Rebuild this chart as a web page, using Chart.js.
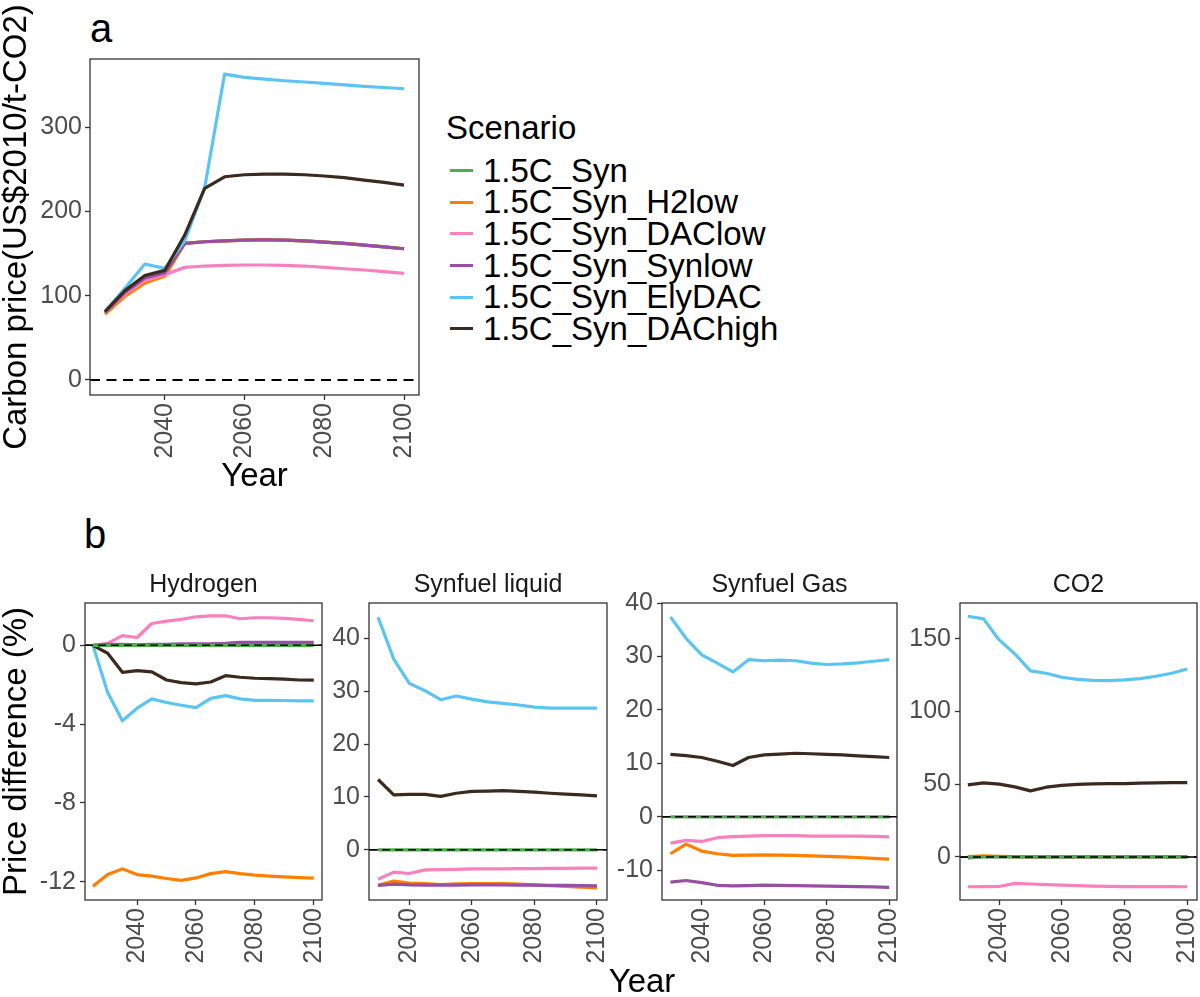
<!DOCTYPE html>
<html>
<head>
<meta charset="utf-8">
<script src="https://cdn.jsdelivr.net/npm/chart.js@4.4.1/dist/chart.umd.min.js"></script>
<style>
body { margin: 0; background: #fff; width: 1200px; height: 997px; position: relative; overflow: hidden;
       font-family: "Liberation Sans", Arial, sans-serif; }
.box { position: absolute; }
.tag { position: absolute; font-size: 40px; line-height: 40px; color: #000; }
#legend { position: absolute; left: 446px; top: 112px; font-size: 33px; color: #000; }
#legend .ttl { line-height: 31.7px; height: 31.7px; margin-bottom: 11px; }
#legend .row { display: flex; align-items: center; height: 31.7px; line-height: 31.7px; white-space: nowrap; }
#legend .key { width: 23px; height: 3px; margin-left: 4px; margin-right: 10px; }
#yearB { position: absolute; left: 542px; width: 200px; top: 964px; text-align: center;
         font-size: 33px; line-height: 33px; color: #000; }
</style>
</head>
<body>
<div class="tag" style="left:90px; top:8px;">a</div>
<div class="tag" style="left:84px; top:514px;">b</div>

<div class="box" style="left:0px; top:0px; width:440px; height:500px;"><canvas id="chartA"></canvas></div>
<div id="legend"></div>

<div class="box" style="left:0px; top:560px; width:325px; height:420px;"><canvas id="chartH2"></canvas></div>
<div class="box" style="left:325px; top:560px; width:287px; height:420px;"><canvas id="chartLiq"></canvas></div>
<div class="box" style="left:612px; top:560px; width:290px; height:420px;"><canvas id="chartGas"></canvas></div>
<div class="box" style="left:905px; top:560px; width:295px; height:420px;"><canvas id="chartCO2"></canvas></div>
<div id="yearB">Year</div>

<script>
// Scenarios and colours
const SCENARIOS = ['1.5C_Syn', '1.5C_Syn_H2low', '1.5C_Syn_DAClow', '1.5C_Syn_Synlow', '1.5C_Syn_ElyDAC', '1.5C_Syn_DAChigh'];
const COLORS = ['#4DAF4A', '#FF7F00', '#F781BF', '#984EA3', '#5BC5F2', '#3C2A1E'];

const YEARS_2025 = [2025, 2030, 2035, 2040, 2045, 2050, 2055, 2060, 2065, 2070, 2075, 2080, 2085, 2090, 2095, 2100];
const YEARS_2030 = [2030, 2035, 2040, 2045, 2050, 2055, 2060, 2065, 2070, 2075, 2080, 2085, 2090, 2095, 2100];
const X_TICKS = [2040, 2060, 2080, 2100];

// a: carbon price (US$2010/t-CO2)
const CP_SYN     = [80, 104, 121, 127, 162, 164, 165, 166, 166.4, 166, 165, 163.5, 162, 160, 158, 155.7];
const CP_H2LOW   = [78, 99, 115, 123, 162, 164, 165, 166, 166.4, 166, 165, 163.5, 162, 160, 158, 155.7];
const CP_DACLOW  = [80, 102, 118, 125, 133.6, 135.2, 136, 136.4, 136.4, 136, 135.2, 133.6, 132, 130.5, 128.5, 126.5];
const CP_SYNLOW  = [80, 104, 121, 127, 162.1, 164, 165.1, 166, 166.4, 166, 165.1, 163.5, 162, 160, 158, 155.7];
const CP_ELYDAC  = [81, 108.7, 137.6, 132.4, 165, 228, 362.9, 359, 357, 355, 353.5, 351.8, 350, 348.3, 347, 345.5];
const CP_DACHIGH = [81, 106, 124, 130, 172, 227.3, 241.1, 243.5, 244.2, 244.2, 243.5, 242, 240, 237.2, 234.4, 231.2];
const CP_TICKS = [0, 100, 200, 300];

// b: price difference (%) - Hydrogen (from 2025)
const H2_SYN     = [0, 0, 0, 0, 0, 0, 0, 0, 0, 0, 0, 0, 0, 0, 0, 0];
const H2_H2LOW   = [-12.23, -11.64, -11.35, -11.64, -11.72, -11.84, -11.93, -11.81, -11.59, -11.49, -11.59, -11.67, -11.72, -11.76, -11.79, -11.82];
const H2_DACLOW  = [0, 0.1, 0.49, 0.4, 1.11, 1.23, 1.32, 1.45, 1.5, 1.5, 1.35, 1.4, 1.4, 1.37, 1.32, 1.25];
const H2_SYNLOW  = [0, 0.05, 0.05, 0.03, 0.05, 0.05, 0.07, 0.08, 0.08, 0.1, 0.15, 0.15, 0.15, 0.15, 0.15, 0.15];
const H2_ELYDAC  = [0, -2.4, -3.83, -3.19, -2.72, -2.9, -3.04, -3.16, -2.69, -2.55, -2.72, -2.79, -2.79, -2.8, -2.82, -2.82];
const H2_DACHIGH = [0, -0.4, -1.37, -1.28, -1.35, -1.76, -1.89, -1.96, -1.86, -1.54, -1.62, -1.67, -1.69, -1.72, -1.76, -1.77];
const H2_TICKS = [-12, -8, -4, 0];

// Synfuel liquid (from 2030)
const LIQ_SYN     = [0, 0, 0, 0, 0, 0, 0, 0, 0, 0, 0, 0, 0, 0, 0];
const LIQ_H2LOW   = [-6.7, -5.93, -6.31, -6.38, -6.57, -6.45, -6.38, -6.38, -6.38, -6.5, -6.63, -6.8, -6.94, -7.05, -7.2];
const LIQ_DACLOW  = [-5.56, -4.23, -4.48, -3.8, -3.75, -3.7, -3.62, -3.6, -3.6, -3.58, -3.55, -3.52, -3.5, -3.48, -3.47];
const LIQ_SYNLOW  = [-6.75, -6.5, -6.63, -6.68, -6.7, -6.68, -6.65, -6.65, -6.66, -6.68, -6.7, -6.72, -6.75, -6.78, -6.82];
const LIQ_ELYDAC  = [44.0, 36.1, 31.5, 30.1, 28.4, 29.1, 28.5, 28.0, 27.7, 27.4, 27.0, 26.8, 26.8, 26.8, 26.8];
const LIQ_DACHIGH = [13.3, 10.4, 10.5, 10.5, 10.1, 10.7, 11.05, 11.1, 11.2, 11.05, 10.9, 10.7, 10.55, 10.4, 10.2];
const LIQ_TICKS = [0, 10, 20, 30, 40];

// Synfuel Gas (from 2030)
const GAS_SYN     = [0, 0, 0, 0, 0, 0, 0, 0, 0, 0, 0, 0, 0, 0, 0];
const GAS_H2LOW   = [-6.9, -5.1, -6.4, -6.9, -7.2, -7.15, -7.1, -7.15, -7.2, -7.3, -7.4, -7.5, -7.6, -7.75, -7.9];
const GAS_DACLOW  = [-4.9, -4.4, -4.6, -3.9, -3.7, -3.6, -3.5, -3.5, -3.5, -3.6, -3.6, -3.6, -3.6, -3.65, -3.75];
const GAS_SYNLOW  = [-12.19, -11.9, -12.3, -12.8, -12.9, -12.85, -12.75, -12.8, -12.85, -12.9, -12.94, -13.0, -13.05, -13.1, -13.2];
const GAS_ELYDAC  = [37.4, 33.4, 30.3, 28.75, 27.1, 29.4, 29.2, 29.3, 29.2, 28.75, 28.5, 28.6, 28.8, 29.1, 29.4];
const GAS_DACHIGH = [11.7, 11.45, 11.1, 10.4, 9.6, 11.1, 11.6, 11.75, 11.9, 11.8, 11.7, 11.6, 11.4, 11.25, 11.1];
const GAS_TICKS = [-10, 0, 10, 20, 30, 40];

// CO2 (from 2030)
const CO2_SYN     = [0, 0, 0, 0, 0, 0, 0, 0, 0, 0, 0, 0, 0, 0, 0];
const CO2_H2LOW   = [0.3, 0.8, 0.5, 0.2, 0, 0, 0, 0, 0, 0, 0, 0, 0, 0, 0];
const CO2_DACLOW  = [-20.5, -20.4, -20.3, -18.2, -18.6, -19.0, -19.4, -19.7, -20.0, -20.2, -20.4, -20.4, -20.4, -20.4, -20.5];
const CO2_SYNLOW  = [-0.6, 0.2, 0.3, 0.2, 0.1, 0, 0, 0, 0, 0, 0, 0, 0, 0, 0];
const CO2_ELYDAC  = [165.6, 163.8, 149.3, 139.7, 128, 126.4, 123.6, 122.2, 121.5, 121.3, 121.8, 122.7, 124.3, 126.4, 129.3];
const CO2_DACHIGH = [49.6, 51, 50.1, 48.2, 45.5, 48, 49.2, 49.9, 50.3, 50.5, 50.5, 50.8, 51, 51.2, 51.2];
const CO2_TICKS = [0, 50, 100, 150];

const FONT = '"Liberation Sans", Arial, sans-serif';
const TICK_COLOR = '#4D4D4D';

// frame + zero lines
const panelPlugin = {
  id: 'panel',
  beforeDatasetsDraw(chart, args, opts) {
    if (!opts.solidZero) return;
    const { ctx, chartArea: a } = chart;
    const y0 = chart.scales.y.getPixelForValue(0);
    ctx.save();
    ctx.strokeStyle = '#000';
    ctx.lineWidth = 1.5;
    ctx.beginPath(); ctx.moveTo(a.left, y0); ctx.lineTo(a.right, y0); ctx.stroke();
    ctx.restore();
  },
  afterDatasetsDraw(chart, args, opts) {
    const { ctx, chartArea: a } = chart;
    const y0 = chart.scales.y.getPixelForValue(0);
    ctx.save();
    ctx.strokeStyle = '#000';
    ctx.lineWidth = opts.dashWidth;
    ctx.setLineDash(opts.dash);
    ctx.beginPath(); ctx.moveTo(a.left, y0); ctx.lineTo(a.right, y0); ctx.stroke();
    ctx.setLineDash([]);
    ctx.strokeStyle = '#333';
    ctx.lineWidth = 1.3;
    ctx.strokeRect(a.left, a.top, a.right - a.left, a.bottom - a.top);
    ctx.restore();
  }
};

function toPoints(years, values) {
  return years.map((x, i) => ({ x: x, y: values[i] }));
}

// first dataset drawn last in Chart.js, so order is reversed;
// in b the baseline (difference = 0) stays on top of the others
function makeDatasets(years, list, baselineOnTop) {
  return list.map((vals, i) => ({
    label: SCENARIOS[i],
    data: toPoints(years, vals),
    order: (baselineOnTop && i === 0) ? 0 : list.length - i,
    borderColor: COLORS[i],
    backgroundColor: COLORS[i],
    borderWidth: 3.2,
    pointRadius: 0,
    pointHoverRadius: 0,
    tension: 0,
    fill: false,
    borderJoinStyle: 'round'
  }));
}

function tickGrid() {
  return { drawOnChartArea: false, drawTicks: true, tickLength: 5, tickColor: '#333', tickWidth: 1.3 };
}

function axisTitle(text, padding) {
  if (!text) return { display: false };
  return { display: true, text: text, color: '#000', font: { family: FONT, size: 33, lineHeight: 1 }, padding: padding };
}

function makeChart(id, cfg) {
  return new Chart(document.getElementById(id), {
    type: 'line',
    data: { datasets: makeDatasets(cfg.years, cfg.series, cfg.solidZero) },
    plugins: [panelPlugin],
    options: {
      responsive: true,
      maintainAspectRatio: false,
      animation: false,
      events: [],
      layout: { padding: { top: cfg.padTop, right: cfg.padRight, left: 0, bottom: 0 } },
      scales: {
        x: {
          type: 'linear',
          min: cfg.xMin, max: cfg.xMax,
          afterBuildTicks: s => { s.ticks = X_TICKS.map(v => ({ value: v })); },
          afterFit: s => { s.height = cfg.xHeight; s.paddingLeft = 0; s.paddingRight = 0; },
          grid: tickGrid(),
          border: { display: false },
          ticks: { color: TICK_COLOR, font: { family: FONT, size: 25 }, padding: 3, autoSkip: false,
                   minRotation: 90, maxRotation: 90, callback: v => String(v) },
          title: axisTitle(cfg.xTitle, { top: 0, bottom: 7 })
        },
        y: {
          type: 'linear',
          min: cfg.yMin, max: cfg.yMax,
          afterBuildTicks: s => { s.ticks = cfg.yTicks.map(v => ({ value: v })); },
          afterFit: s => { s.width = cfg.yWidth; s.paddingTop = 0; s.paddingBottom = 0; },
          grid: tickGrid(),
          border: { display: false },
          ticks: { color: TICK_COLOR, font: { family: FONT, size: 25 }, padding: cfg.yPad, autoSkip: false,
                   callback: v => String(v) },
          title: axisTitle(cfg.yTitle, { top: 0, bottom: 0 })
        }
      },
      plugins: {
        legend: { display: false },
        tooltip: { enabled: false },
        title: cfg.facet ? {
          display: true, text: cfg.facet, fullSize: false, color: '#1A1A1A',
          font: { family: FONT, size: 25, weight: 'normal', lineHeight: 1.2 },
          padding: { top: 9.8, bottom: 3.2 }
        } : { display: false },
        panel: { solidZero: cfg.solidZero, dash: cfg.dash, dashWidth: cfg.dashWidth }
      }
    }
  });
}

// panel a
makeChart('chartA', {
  years: YEARS_2025,
  series: [CP_SYN, CP_H2LOW, CP_DACLOW, CP_SYNLOW, CP_ELYDAC, CP_DACHIGH],
  xMin: 2021.25, xMax: 2103.75, yMin: -17.8, yMax: 380.8, yTicks: CP_TICKS,
  padTop: 59, padRight: 21, yWidth: 90, xHeight: 105, yPad: 3,
  xTitle: 'Year', yTitle: 'Carbon price(US$2010/t-CO2)',
  solidZero: false, dash: [10, 6.5], dashWidth: 2
});

// legend built from the scenario list
const legend = document.getElementById('legend');
legend.innerHTML = '<div class="ttl">Scenario</div>' + SCENARIOS.map((s, i) =>
  '<div class="row"><span class="key" style="background:' + COLORS[i] + '"></span><span>' + s + '</span></div>').join('');

// panel b facets
const FACET_BASE = { padTop: 0, xHeight: 80, yPad: 4, solidZero: true, dash: [8, 5], dashWidth: 1.5 };

makeChart('chartH2', Object.assign({}, FACET_BASE, {
  facet: 'Hydrogen', years: YEARS_2025,
  series: [H2_SYN, H2_H2LOW, H2_DACLOW, H2_SYNLOW, H2_ELYDAC, H2_DACHIGH],
  xMin: 2022.3, xMax: 2102.8, yMin: -12.93, yMax: 2.15, yTicks: H2_TICKS,
  padRight: 3, yWidth: 85, yTitle: 'Price difference (%)'
}));

makeChart('chartLiq', Object.assign({}, FACET_BASE, {
  facet: 'Synfuel liquid', years: YEARS_2030,
  series: [LIQ_SYN, LIQ_H2LOW, LIQ_DACLOW, LIQ_SYNLOW, LIQ_ELYDAC, LIQ_DACHIGH],
  xMin: 2027.1, xMax: 2103.2, yMin: -9.5, yMax: 46.7, yTicks: LIQ_TICKS,
  padRight: 5, yWidth: 44
}));

makeChart('chartGas', Object.assign({}, FACET_BASE, {
  facet: 'Synfuel Gas', years: YEARS_2030,
  series: [GAS_SYN, GAS_H2LOW, GAS_DACLOW, GAS_SYNLOW, GAS_ELYDAC, GAS_DACHIGH],
  xMin: 2027.3, xMax: 2102.5, yMin: -15.55, yMax: 40, yTicks: GAS_TICKS,
  padRight: 5, yWidth: 50
}));

makeChart('chartCO2', Object.assign({}, FACET_BASE, {
  facet: 'CO2', years: YEARS_2030,
  series: [CO2_SYN, CO2_H2LOW, CO2_DACLOW, CO2_SYNLOW, CO2_ELYDAC, CO2_DACHIGH],
  xMin: 2027.5, xMax: 2103.1, yMin: -29.6, yMax: 174.7, yTicks: CO2_TICKS,
  padRight: 3, yWidth: 55
}));
</script>
</body>
</html>
